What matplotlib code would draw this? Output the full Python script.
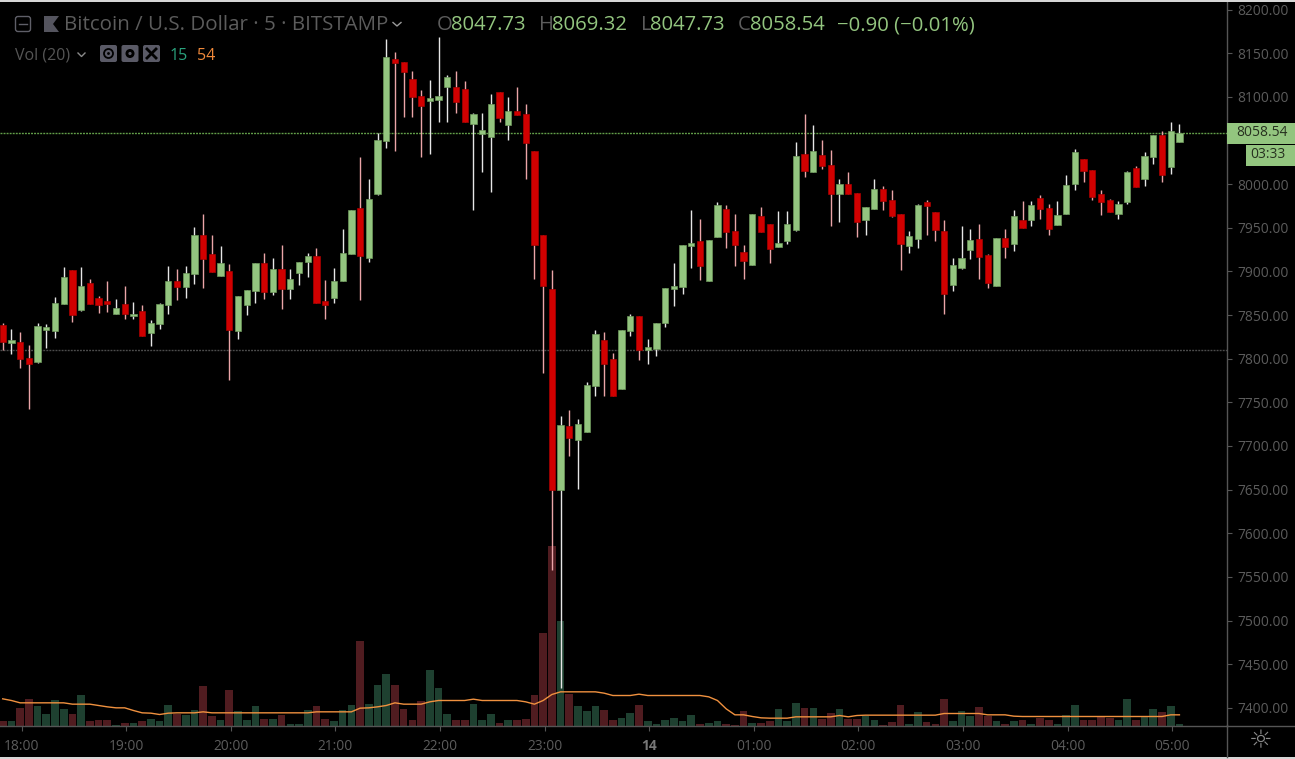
import matplotlib
matplotlib.use("Agg")
import matplotlib.pyplot as plt
from matplotlib.patches import Circle, FancyBboxPatch, Rectangle

plt.rcParams["font.family"] = ["Open Sans", "DejaVu Sans"]

# bitcoin 5 min candles
opens = [
    7838.2, 7818.3, 7819.5, 7801.1, 7796.2, 7832.5, 7831.3, 7862.6, 7901.6, 7855.4,
    7887.0, 7869.9, 7865.7, 7851.5, 7862.6, 7849.2, 7854.2, 7829.8, 7839.7, 7861.5,
    7888.6, 7881.7, 7897.0, 7941.7, 7920.3, 7894.3, 7900.0, 7831.3, 7861.5, 7877.1,
    7910.0, 7876.0, 7902.7, 7880.2, 7898.5, 7910.3, 7917.2, 7865.7, 7869.9, 7888.6,
    7920.3, 7973.0, 7915.7, 7988.7, 8049.4, 8143.3, 8139.5, 8120.8, 8100.9, 8095.2,
    8096.7, 8111.2, 8110.8, 8109.3, 8069.2, 8057.8, 8053.6, 8105.1, 8067.7, 8083.3,
    8080.7, 8037.5, 7941.7, 7879.8, 7649.6, 7723.3, 7706.5, 7716.4, 7768.3, 7821.0,
    7799.6, 7765.3, 7831.3, 7848.5, 7810.0, 7811.5, 7840.5, 7880.2, 7881.7, 7928.7,
    7934.4, 7888.6, 7939.0, 7971.4, 7945.9, 7922.6, 7907.3, 7963.0, 7954.6, 7927.5,
    7934.4, 7947.4, 8034.8, 8013.4, 8033.3, 8021.9, 7989.0, 8000.5, 7990.2, 7958.9,
    7971.8, 7994.7, 7981.8, 7966.1, 7928.7, 7937.5, 7979.1, 7967.7, 7945.9, 7884.5,
    7904.3, 7924.5, 7937.1, 7918.8, 7882.9, 7938.7, 7931.8, 7958.9, 7958.9, 7984.5,
    7973.0, 7953.2, 7966.2, 8000.5, 8029.2, 8016.2, 7989.1, 7981.8, 7966.2, 7979.1,
    8018.8, 8006.2, 8030.7, 8056.3, 8019.2, 8047.73,
]
highs = [
    7841.2, 7834.0, 7830.9, 7815.3, 7841.2, 7839.7, 7871.0, 7905.4, 7901.6, 7904.6,
    7891.6, 7871.4, 7888.6, 7868.3, 7882.9, 7864.5, 7861.5, 7844.3, 7864.1, 7905.8,
    7903.1, 7905.8, 7950.4, 7966.1, 7941.7, 7928.7, 7908.8, 7871.4, 7878.7, 7910.0,
    7921.4, 7915.7, 7930.2, 7903.1, 7911.1, 7921.4, 7927.1, 7890.1, 7904.2, 7949.0,
    7970.3, 8030.7, 8006.2, 8058.1, 8166.6, 8150.9, 8139.5, 8129.2, 8107.8, 8119.2,
    8168.1, 8125.0, 8129.2, 8117.7, 8081.8, 8081.1, 8103.6, 8105.1, 8099.4, 8110.8,
    8092.1, 8037.5, 7941.7, 7901.6, 7734.7, 7740.8, 7730.5, 7773.7, 7832.9, 7830.9,
    7806.9, 7832.5, 7851.6, 7848.5, 7822.6, 7841.3, 7881.3, 7910.0, 7930.2, 7970.3,
    7960.4, 7935.9, 7979.8, 7975.6, 7966.1, 7930.2, 7966.1, 7973.4, 7954.6, 7968.8,
    7968.8, 8047.8, 8080.6, 8067.7, 8050.5, 8039.0, 8006.2, 8013.4, 7990.2, 7973.4,
    8006.2, 7997.4, 7993.2, 7966.1, 7945.9, 7977.6, 7981.8, 7967.7, 7958.9, 7915.8,
    7951.6, 7949.0, 7954.7, 7920.3, 7938.7, 7949.0, 7970.4, 7980.3, 7980.3, 7987.5,
    7977.6, 7980.3, 8010.4, 8040.6, 8029.2, 8016.2, 7993.3, 7983.3, 7980.3, 8014.6,
    8020.4, 8036.4, 8056.3, 8060.5, 8070.8, 8069.32,
]
lows = [
    7809.9, 7805.3, 7789.7, 7742.4, 7795.4, 7812.6, 7824.0, 7862.6, 7842.4, 7854.2,
    7863.0, 7852.3, 7853.8, 7851.5, 7845.4, 7845.4, 7825.6, 7814.9, 7834.0, 7851.2,
    7867.2, 7869.9, 7885.5, 7881.3, 7898.9, 7894.3, 7775.2, 7822.5, 7849.6, 7864.1,
    7868.3, 7872.5, 7857.3, 7868.3, 7884.0, 7893.2, 7864.1, 7845.4, 7864.1, 7888.6,
    7920.3, 7867.2, 7910.4, 7987.5, 8040.9, 8037.9, 8076.5, 8076.5, 8030.7, 8034.9,
    8070.7, 8070.7, 8081.1, 8071.1, 7970.3, 8013.5, 7990.6, 8070.7, 8050.5, 8079.1,
    8006.2, 7891.7, 7784.0, 7558.0, 7423.0, 7688.9, 7650.4, 7716.4, 7757.6, 7757.6,
    7756.9, 7765.3, 7825.6, 7798.1, 7793.9, 7802.7, 7836.7, 7860.0, 7874.1, 7904.2,
    7889.7, 7888.6, 7939.0, 7927.2, 7905.8, 7891.3, 7907.3, 7944.7, 7910.0, 7927.5,
    7931.7, 7945.9, 8007.7, 8013.4, 8017.6, 7951.6, 7956.2, 7989.0, 7939.0, 7941.7,
    7971.8, 7970.3, 7961.9, 7901.6, 7921.4, 7927.2, 7941.7, 7934.5, 7851.6, 7877.2,
    7902.8, 7914.2, 7891.3, 7881.4, 7882.9, 7915.8, 7923.0, 7950.1, 7951.6, 7960.1,
    7941.7, 7953.2, 7966.2, 7993.3, 8002.0, 7981.8, 7964.6, 7967.7, 7960.1, 7977.6,
    7996.3, 7997.5, 8023.4, 8002.0, 8012.0, 8047.73,
]
closes = [
    7818.7, 7821.0, 7800.0, 7794.3, 7837.0, 7836.6, 7864.1, 7893.2, 7850.0, 7882.9,
    7863.0, 7861.5, 7863.0, 7858.4, 7851.5, 7851.5, 7825.6, 7841.2, 7862.6, 7888.6,
    7881.7, 7898.5, 7941.7, 7914.5, 7898.9, 7910.0, 7832.8, 7871.4, 7878.7, 7910.0,
    7876.0, 7902.7, 7880.2, 7891.2, 7911.1, 7917.2, 7864.1, 7861.5, 7888.6, 7921.5,
    7970.3, 7917.3, 7983.3, 8050.5, 8145.2, 8138.3, 8128.4, 8099.8, 8089.8, 8099.0,
    8100.9, 8122.3, 8094.0, 8071.1, 8080.7, 8061.9, 8092.1, 8075.3, 8083.7, 8079.1,
    8046.7, 7930.2, 7883.3, 7649.6, 7723.7, 7709.5, 7724.8, 7769.5, 7828.3, 7794.3,
    7756.9, 7832.5, 7848.5, 7810.3, 7813.0, 7841.3, 7881.3, 7882.9, 7930.2, 7932.9,
    7906.2, 7935.9, 7975.6, 7944.7, 7930.2, 7911.5, 7966.1, 7944.7, 7926.0, 7932.9,
    7954.6, 8032.2, 8015.0, 8037.5, 8020.7, 7989.0, 8000.5, 7989.0, 7956.2, 7973.4,
    7994.7, 7980.6, 7963.4, 7931.7, 7940.1, 7976.0, 7974.9, 7947.4, 7874.5, 7907.4,
    7915.8, 7936.0, 7916.1, 7887.1, 7938.7, 7927.6, 7963.1, 7950.1, 7976.1, 7971.9,
    7948.9, 7964.6, 7999.0, 8036.4, 8015.0, 7984.9, 7979.1, 7967.7, 7977.6, 8013.5,
    7996.3, 8031.8, 8056.3, 8010.5, 8060.5, 8058.54,
]
volumes = [
    13, 13, 54, 80, 58, 36, 77, 51, 36, 92, 13, 17, 17, 2, 9, 9, 13, 20, 13, 62,
    36, 32, 47, 118, 28, 17, 107, 43, 17, 58, 21, 21, 32, 6, 6, 47, 58, 21, 13, 47,
    62, 253, 66, 122, 156, 122, 51, 17, 73, 167, 114, 36, 17, 17, 66, 17, 36, 9, 17, 17,
    21, 93, 277, 538, 313, 96, 58, 43, 58, 47, 17, 24, 39, 62, 13, 6, 17, 24, 13, 32,
    6, 9, 13, 6, 2, 43, 9, 9, 13, 51, 13, 69, 54, 54, 21, 39, 51, 21, 21, 29,
    18, 1, 10, 62, 6, 40, 10, 6, 81, 14, 44, 29, 55, 29, 14, 6, 14, 18, 6, 22,
    18, 6, 33, 62, 18, 18, 25, 22, 18, 81, 18, 25, 51, 40, 59, 6,
]
vol_ma = [
    80, 75, 68, 68, 68, 68, 68, 68, 64, 64, 64, 60, 56, 53, 53, 45, 38, 37, 33, 37,
    38, 38, 38, 41, 38, 38, 38, 38, 38, 38, 38, 38, 38, 38, 38, 38, 41, 41, 41, 41,
    41, 52, 53, 56, 60, 68, 64, 64, 64, 71, 75, 75, 75, 75, 79, 75, 75, 75, 75, 75,
    71, 64, 75, 93, 101, 101, 101, 101, 101, 97, 90, 90, 90, 94, 90, 90, 90, 90, 90, 90,
    90, 86, 75, 50, 32, 32, 27, 23, 22, 22, 22, 26, 26, 26, 26, 26, 30, 26, 30, 31,
    31, 31, 31, 31, 31, 31, 31, 31, 36, 36, 36, 36, 36, 32, 32, 32, 28, 27, 27, 27,
    27, 27, 27, 27, 27, 27, 27, 27, 27, 27, 27, 27, 27, 27, 32, 32,
]
price_ticks = list(range(7400, 8201, 50))
hour_labels = ["18:00", "19:00", "20:00", "21:00", "22:00", "23:00", "14",
               "01:00", "02:00", "03:00", "04:00", "05:00"]
hour_index = [2 + 12 * k for k in range(len(hour_labels))]
last_price = 8058.54
low_level = 7810.5

GREEN = "#93c57f"
RED = "#d10000"
GREY = "#5c5c5c"
BG = "#000000"

fig = plt.figure(figsize=(12.95, 7.59), dpi=100, facecolor=BG)
left, right = 0, 1226.5 / 1295
bottom = 1 - 725.5 / 759
rect = [left, bottom, right, 1 - bottom]
x_range = (-0.31, 140.4)

ax_vol = fig.add_axes(rect, facecolor=BG, zorder=1)
ax = fig.add_axes(rect, zorder=2)
ax.patch.set_visible(False)

xs = list(range(len(opens)))
up = [c >= o for o, c in zip(opens, closes)]

# volume pane, same x scale, baseline on the price pane bottom
ax_vol.bar(xs, volumes, width=0.88, color=["#1e4030" if u else "#501c20" for u in up])
ax_vol.plot(xs, vol_ma, color="#f0913f", lw=1)
ax_vol.set_ylim(0, 725.5 * 3)
ax_vol.set_xlim(*x_range)
ax_vol.axis("off")

ax.axhline(last_price, color="#63a04a", lw=1, ls=(0, (1.4, 0.8)), zorder=1)
ax.axhline(low_level, color="#4c4c4c", lw=1, ls=(0, (1.4, 0.8)), zorder=1)

ax.vlines(xs, lows, highs, colors=["#e6e6e6" if u else "#eba5a8" for u in up], lw=1.0, zorder=2)
body_low = [min(o, c) for o, c in zip(opens, closes)]
body_h = [abs(o - c) for o, c in zip(opens, closes)]
ax.bar(xs, body_h, bottom=body_low, width=0.72, zorder=3,
       color=[GREEN if u else RED for u in up],
       edgecolor=["#6f9a5d" if u else "#a80000" for u in up], linewidth=0.5)

ax.set_xlim(*x_range)
ax.set_ylim(7379.8, 8210.9)
ax.yaxis.tick_right()
ax.set_yticks(price_ticks)
# the 8050 label sits under the last price tag
ax.set_yticklabels(["" if p == 8050 else f"{p:.2f}" for p in price_ticks])
ax.set_xticks([i + 0.17 for i in hour_index])
ax.set_xticklabels(hour_labels)
ax.tick_params(axis="both", length=3.6, width=0.8, color="#555555", labelcolor=GREY, labelsize=9.9)
ax.tick_params(axis="y", pad=4.5)
ax.tick_params(axis="x", pad=6)
ax.get_xticklabels()[6].set_color("#777777")
ax.get_xticklabels()[6].set_fontweight("bold")
for side in ["top", "left"]:
    ax.spines[side].set_visible(False)
for side in ["right", "bottom"]:
    ax.spines[side].set_color("#555555")
    ax.spines[side].set_linewidth(1)

# overlay in screen pixels for the chart chrome
ui = fig.add_axes([0, 0, 1, 1], zorder=5)
ui.set_xlim(0, 1295)
ui.set_ylim(759, 0)
ui.axis("off")

ui.plot([1226.5, 1226.5], [725, 757], color="#555555", lw=1)
ui.plot([1226.5, 1295], [725.5, 725.5], color="#555555", lw=1)
ui.add_patch(Rectangle((0, 0), 1295, 1.5, color="#d6d6d6", lw=0))
ui.add_patch(Rectangle((0, 757), 1295, 2, color="#d6d6d6", lw=0))

# price tags on the axis
ui.add_patch(Rectangle((1226.5, 123), 68.5, 20.5, color=GREEN, lw=0))
ui.text(1262, 132.5, f"{last_price:.2f}", color="#26301f", fontsize=9.9, ha="center", va="center")
ui.add_patch(Rectangle((1246, 145), 49, 21, color=GREEN, lw=0))
ui.text(1268, 155, "03:33", color="#26301f", fontsize=9.9, ha="center", va="center")
ui.text(1261, 741, "\u263c", color="#8a8a8a", fontsize=19, ha="center", va="center",
        family=["DejaVu Sans"])

# legend rows
ui.add_patch(FancyBboxPatch((15.5, 16.5), 15, 15, boxstyle="round,pad=0,rounding_size=2.5",
                            fc="none", ec="#5f5f68", lw=1))
ui.plot([19, 27], [24, 24], color="#5f5f68", lw=1)
ui.fill([44, 59, 53, 59, 44], [16, 16, 24, 32, 32], color="#54545e", lw=0)
ui.text(64, 25, "Bitcoin / U.S. Dollar \u00b7 5 \u00b7 BITSTAMP", color=GREY, fontsize=14.75,
        va="center", ha="left")
ui.plot([393, 397, 401], [22.5, 26, 22.5], color="#9a9a9a", lw=1)

for x, txt, col in [
    (437, "O", GREY), (451, "8047.73", GREEN), (539, "H", GREY), (552, "8069.32", GREEN),
    (641, "L", GREY), (650, "8047.73", GREEN), (738, "C", GREY), (750, "8058.54", GREEN),
    (837, "\u22120.90 (\u22120.01%)", GREEN),
]:
    ui.text(x, 25, txt, color=col, fontsize=14.6, va="center", ha="left")

ui.text(15, 55.5, "Vol (20)", color="#555555", fontsize=11.5, va="center", ha="left")
ui.plot([78, 81.5, 85], [53, 56.5, 53], color="#8a8a8a", lw=1)
for bx in [100, 121.5, 143]:
    ui.add_patch(FancyBboxPatch((bx, 45), 17, 17, boxstyle="round,pad=0,rounding_size=2",
                                fc="#5a5a66", ec="none"))
ui.add_patch(Circle((108.5, 53.5), 4.5, fc="none", ec=BG, lw=1.3))
ui.add_patch(Circle((108.5, 53.5), 1.4, fc=BG, ec="none"))
ui.add_patch(Circle((130, 53.5), 4.5, fc=BG, ec="none"))
ui.add_patch(Circle((130, 53.5), 1.6, fc="#5a5a66", ec="none"))
ui.plot([147, 156], [49, 58], color=BG, lw=2)
ui.plot([147, 156], [58, 49], color=BG, lw=2)
ui.text(170, 55.5, "15", color="#2aa37e", fontsize=11.5, va="center", ha="left")
ui.text(197, 55.5, "54", color="#f0893a", fontsize=11.5, va="center", ha="left")

fig.savefig("out.png", dpi=100, facecolor=BG)
plt.close(fig)
